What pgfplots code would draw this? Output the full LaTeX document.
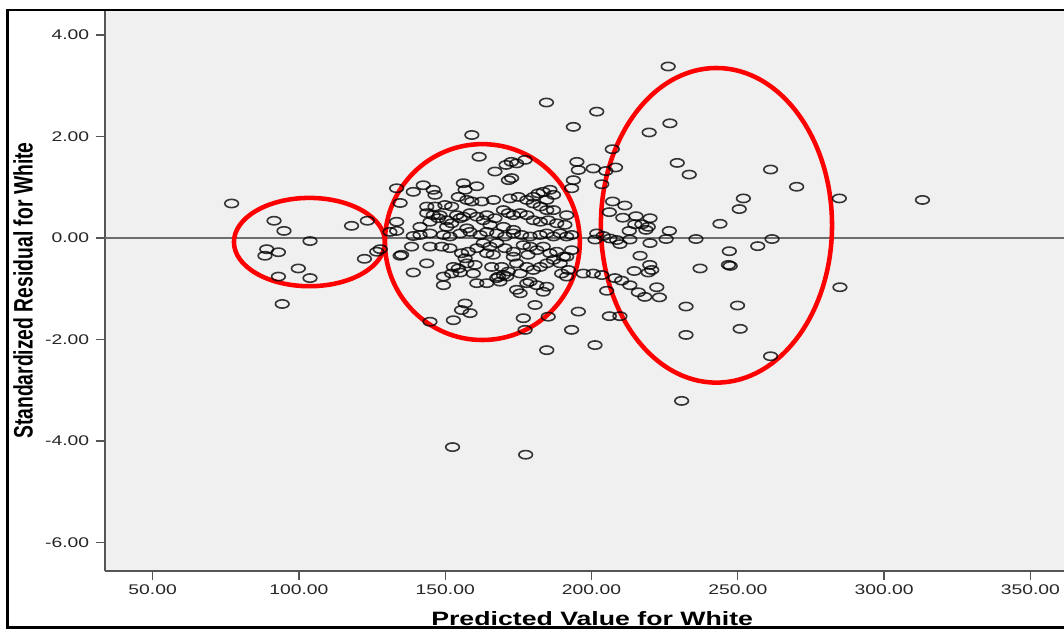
\documentclass[border=0pt]{standalone}
\usepackage{fontspec}
\setmainfont{Liberation Sans}
\usepackage{pgfplots}
\pgfplotsset{compat=1.18}
\definecolor{bgc}{RGB}{240,240,240}
\definecolor{axc}{RGB}{85,85,85}
\definecolor{zeroc}{RGB}{110,110,110}
\begin{document}
\begin{tikzpicture}
\useasboundingbox (0,0) rectangle (798pt,471.75pt);
\fill[white] (0,0) rectangle (798pt,471.75pt);
\begin{axis}[
 at={(78.75pt,43.725pt)}, anchor=south west,
 scale only axis, width=719.25pt, height=420.15pt,
 xmin=33.73, xmax=361.48, ymin=-6.556, ymax=4.483,
 axis lines*=left, axis line style={axc, line width=1.5pt},
 axis background/.style={fill=bgc},
 xtick={50,100,...,350}, ytick={-6,-4,...,4},
 tick align=outside, major tick length=7pt, tick style={axc, line width=1pt},
 /pgf/number format/.cd, fixed, fixed zerofill, precision=2, assume math mode=true, /pgfplots/.cd,
 ticklabel style={font=\fontsize{10.5}{12}\selectfont, text=black!85, xscale=1.38},
 xlabel={Predicted Value for White}, ylabel={Standardized Residual for White},
 every axis x label/.style={at={(rel axis cs:0.508,-0.0986)}, anchor=base, font=\bfseries\fontsize{14.5}{16}\selectfont, xscale=1.38},
 every axis y label/.style={at={(rel axis cs:-0.0855,0.5)}, anchor=center, rotate=90, yscale=1.38, font=\bfseries\fontsize{14.5}{16}\selectfont},
 clip=true,
]
\addplot[zeroc, line width=1.1pt] coordinates {(33.73,0) (361.48,0)};
\addplot[only marks, mark=o, mark size=3.1pt,
  mark options={xscale=1.65, draw=black, draw opacity=0.78, line width=1.2pt}]
 table[row sep=\\]{
x y\\
77.0 0.68\\ 91.5 0.34\\ 94.9 0.14\\ 103.8 -0.06\\ 89.0 -0.22\\ 88.4 -0.35\\ 93.0 -0.28\\
99.8 -0.60\\ 93.0 -0.76\\ 103.8 -0.79\\ 94.3 -1.30\\ 118.0 0.24\\ 123.4 0.34\\ 122.4 -0.41\\
126.6 -0.27\\ 127.8 -0.22\\ 133.4 0.14\\ 133.4 0.98\\ 134.6 0.69\\ 133.4 0.32\\ 134.6 -0.35\\
184.6 2.67\\ 193.8 2.19\\ 201.8 2.49\\ 159.1 2.03\\ 161.6 1.60\\ 167.0 1.31\\ 170.8 1.44\\
172.6 1.50\\ 174.4 1.47\\ 177.3 1.54\\ 171.6 1.14\\ 172.7 1.18\\ 195.0 1.50\\ 195.5 1.34\\
193.8 1.14\\ 193.2 0.98\\ 200.6 1.37\\ 139.1 0.91\\ 142.5 1.04\\ 145.9 0.95\\ 146.5 0.85\\
156.2 1.08\\ 156.8 0.95\\ 160.8 1.02\\ 154.5 0.81\\ 157.4 0.75\\ 143.7 0.62\\ 146.5 0.62\\
149.9 0.65\\ 152.2 0.62\\ 162.5 0.72\\ 166.5 0.75\\ 172.1 0.78\\ 175.0 0.81\\ 177.9 0.75\\
180.1 0.81\\ 181.8 0.88\\ 183.5 0.91\\ 185.8 0.95\\ 187.0 0.85\\ 184.7 0.75\\ 180.1 0.68\\
182.5 0.62\\ 184.7 0.55\\ 187.0 0.55\\ 191.5 0.45\\ 143.7 0.49\\ 145.9 0.45\\ 144.8 0.32\\
147.6 0.39\\ 150.5 0.35\\ 153.9 0.45\\ 156.2 0.42\\ 158.5 0.49\\ 160.8 0.42\\ 164.2 0.45\\
167.0 0.39\\ 169.9 0.55\\ 171.6 0.49\\ 173.3 0.45\\ 175.6 0.49\\ 177.9 0.45\\ 180.1 0.35\\
182.5 0.32\\ 185.2 0.35\\ 188.1 0.29\\ 190.9 0.26\\ 141.4 0.22\\ 150.5 0.22\\ 157.4 0.19\\
165.3 0.26\\ 169.9 0.22\\ 173.3 0.16\\ 131.1 0.12\\ 139.1 0.04\\ 141.4 0.06\\ 144.8 0.09\\
149.4 0.06\\ 151.6 0.03\\ 155.1 0.09\\ 158.5 0.12\\ 161.9 0.06\\ 164.2 0.12\\ 167.6 0.09\\
170.4 0.03\\ 173.3 0.09\\ 176.1 0.06\\ 179.0 0.03\\ 182.4 0.06\\ 184.7 0.09\\ 187.0 0.03\\
189.3 0.09\\ 191.5 0.03\\ 193.2 0.06\\ 138.5 -0.17\\ 135.1 -0.33\\ 144.8 -0.17\\ 148.8 -0.17\\
151.6 -0.20\\ 155.6 -0.30\\ 157.9 -0.27\\ 160.8 -0.20\\ 163.0 -0.10\\ 165.3 -0.17\\ 167.6 -0.10\\
170.4 -0.20\\ 173.3 -0.27\\ 176.7 -0.14\\ 179.0 -0.17\\ 181.3 -0.24\\ 183.5 -0.17\\ 185.8 -0.30\\
188.1 -0.27\\ 190.4 -0.37\\ 193.2 -0.24\\ 143.7 -0.50\\ 139.1 -0.68\\ 149.4 -0.76\\ 149.4 -0.93\\
152.2 -0.70\\ 154.5 -0.60\\ 157.4 -0.50\\ 160.2 -0.53\\ 159.6 -0.70\\ 160.8 -0.89\\ 164.2 -0.89\\
165.9 -0.57\\ 169.9 -0.73\\ 173.3 -0.37\\ 174.4 -0.50\\ 175.6 -0.70\\ 177.9 -0.57\\ 180.1 -0.63\\
182.5 -0.57\\ 184.7 -0.50\\ 187.0 -0.43\\ 189.3 -0.50\\ 191.5 -0.37\\ 189.8 -0.70\\ 174.4 -1.02\\
175.6 -1.09\\ 181.3 -0.93\\ 183.5 -1.06\\ 184.7 -0.96\\ 168.7 -0.86\\ 171.0 -0.76\\ 156.8 -1.29\\
155.6 -1.42\\ 158.5 -1.48\\ 144.8 -1.65\\ 152.8 -1.62\\ 180.7 -1.32\\ 185.2 -1.55\\ 176.7 -1.58\\
195.5 -1.45\\ 193.2 -1.81\\ 184.7 -2.21\\ 177.3 -1.81\\ 197.2 -0.70\\ 200.6 -0.70\\ 201.2 -2.11\\
201.8 0.09\\ 159.1 0.72\\ 148.2 0.45\\ 163.0 0.35\\ 152.2 0.29\\ 155.1 0.39\\ 152.8 -0.57\\
155.1 -0.68\\ 156.8 -0.40\\ 164.2 -0.30\\ 166.4 -0.33\\ 167.6 -0.79\\ 178.3 -0.33\\ 169.3 -0.57\\
171.6 -0.66\\ 168.2 -0.76\\ 192.1 -0.63\\ 191.5 -0.76\\ 179.0 -0.86\\ 177.9 -0.89\\ 152.5 -4.12\\
177.5 -4.27\\
226.2 3.38\\ 226.8 2.26\\ 219.7 2.08\\ 207.1 1.75\\ 229.3 1.48\\ 233.4 1.25\\ 261.2 1.35\\
270.1 1.01\\ 284.7 0.78\\ 208.2 1.39\\ 204.9 1.32\\ 203.5 1.06\\ 251.9 0.78\\ 250.5 0.57\\
243.9 0.28\\ 207.2 0.72\\ 211.4 0.64\\ 206.1 0.51\\ 210.7 0.40\\ 215.2 0.43\\ 220.0 0.39\\
217.2 0.27\\ 219.4 0.22\\ 214.8 0.27\\ 218.6 0.16\\ 226.6 0.14\\ 212.9 0.14\\ 201.2 -0.03\\
204.0 0.04\\ 206.3 -0.01\\ 208.6 -0.04\\ 209.7 -0.12\\ 213.1 -0.03\\ 220.0 -0.10\\ 225.5 -0.02\\
235.7 -0.02\\ 261.7 -0.02\\ 256.8 -0.16\\ 247.1 -0.26\\ 246.8 -0.53\\ 247.4 -0.55\\ 237.1 -0.60\\
216.6 -0.35\\ 219.9 -0.53\\ 220.6 -0.63\\ 219.4 -0.68\\ 214.6 -0.65\\ 203.5 -0.73\\ 208.0 -0.79\\
210.3 -0.84\\ 213.1 -0.93\\ 216.0 -1.07\\ 218.2 -1.16\\ 222.3 -0.97\\ 223.2 -1.17\\ 205.2 -1.04\\
206.1 -1.54\\ 209.7 -1.54\\ 232.3 -1.35\\ 249.9 -1.33\\ 232.3 -1.91\\ 250.8 -1.79\\ 261.2 -2.33\\
230.8 -3.21\\ 284.9 -0.97\\ 313.1 0.75\\
};
\draw[red, line width=3.4pt] (axis cs:103.6,-0.08) ellipse [x radius=25.8, y radius=0.87];
\draw[red, line width=3.4pt] (axis cs:162.7,-0.08) ellipse [x radius=33.3, y radius=1.93];
\draw[red, line width=3.4pt] (axis cs:242.7,0.25) ellipse [x radius=39.5, y radius=3.10];
\end{axis}
\draw[black, line width=1.6pt] (800pt,464.25pt) -- (5.6pt,464.25pt) -- (5.6pt,1.1pt) -- (800pt,1.1pt);
\end{tikzpicture}
\end{document}
